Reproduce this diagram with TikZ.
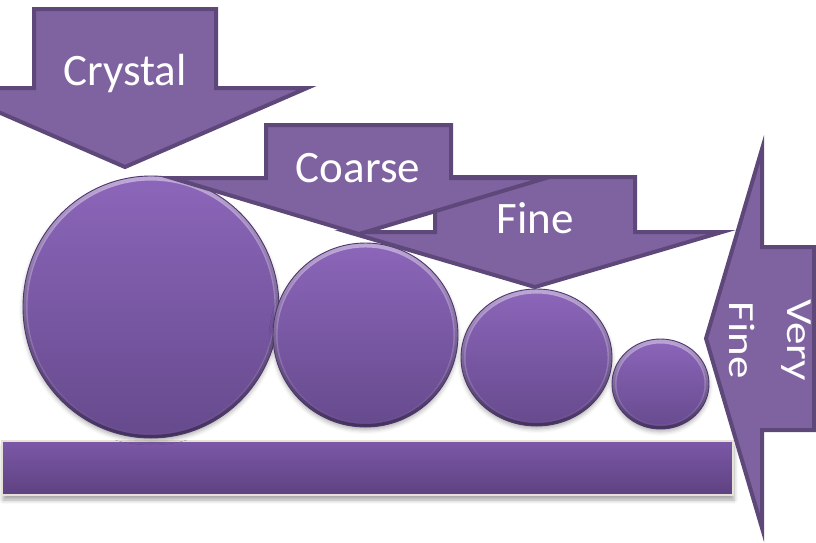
\documentclass[tikz,border=0pt]{standalone}
\usepackage{fontspec}
\setmainfont{Carlito}
\usetikzlibrary{fadings,shadows.blur,shapes.geometric}

\definecolor{arrowfill}{HTML}{7F63A1}
\definecolor{arrowline}{HTML}{5D4879}
\definecolor{balltop}{HTML}{8C66BA}
\definecolor{ballbot}{HTML}{664A8D}
\definecolor{ballrim}{HTML}{4E376D}
\definecolor{bartop}{HTML}{7C58A7}
\definecolor{barbot}{HTML}{5E4281}
\definecolor{baredge}{HTML}{E6E2D8}

% soft highlight on the upper rim, soft shade on the lower rim
\tikzfading[name=rimtop, top color=transparent!0, middle color=transparent!100, bottom color=transparent!100]
\tikzfading[name=rimbottom, top color=transparent!100, middle color=transparent!100, bottom color=transparent!0]

% a bevelled ball: name, centre x, centre y, x radius, y radius
\newcommand{\bevelball}[5]{%
  \node[ball, minimum width=2*#4, minimum height=2*#5] (#1) at (#2,#3) {};
  \begin{scope}
    \clip (#2,#3) ellipse [x radius=#4, y radius=#5];
    \draw[white, opacity=.45, line width=9pt, path fading=rimtop]
      (#2,#3) ellipse [x radius=#4, y radius=#5];
    \draw[black, opacity=.35, line width=6pt, path fading=rimbottom]
      (#2,#3) ellipse [x radius=#4, y radius=#5];
  \end{scope}
  \draw[ballrim, line width=.9pt] (#2,#3) ellipse [x radius=#4, y radius=#5];
}

\begin{document}
\begin{tikzpicture}[x=1pt,y=-1pt,
  blockarrow/.style={fill=arrowfill, draw=arrowline, line width=4pt,
    line join=miter, miter limit=10},
  lbl/.style={text=white, font=\fontsize{45}{54}\selectfont, inner sep=0pt},
  ball/.style={ellipse, inner sep=0pt, top color=balltop, bottom color=ballbot,
    blur shadow={shadow xshift=0pt, shadow yshift=-3pt, shadow blur radius=4pt,
      shadow opacity=30}},
  basebar/.style={top color=bartop, bottom color=barbot, draw=baredge,
    line width=1.5pt,
    blur shadow={shadow xshift=1pt, shadow yshift=-5pt, shadow blur radius=4pt,
      shadow opacity=35}},
]
\useasboundingbox (0,0) rectangle (816,542);
\clip (0,0) rectangle (816,542);

% base plate
\path[basebar] (2,441) rectangle (733,495);

% four grains, largest to smallest
\bevelball{g1}{151}{307}{128}{131}
\bevelball{g2}{365.5}{335}{92.5}{92}
\bevelball{g3}{536.5}{357.5}{75.5}{68.5}
\bevelball{g4}{660.5}{384}{48.5}{45}

% block arrows
\draw[blockarrow] (34,9) -- (216,9) -- (216,88) -- (307,88) -- (125,167)
  -- (-57,88) -- (34,88) -- cycle;
\node[lbl, anchor=base] (crystal) at (125,85) {Crystal};

\draw[blockarrow] (435,177) -- (635,177) -- (635,232) -- (722,232) -- (535,287)
  -- (348,232) -- (435,232) -- cycle;
\node[lbl, anchor=base] (fine) at (535,233) {Fine};

\draw[blockarrow] (266,125) -- (451,125) -- (451,178) -- (546,178) -- (359,234)
  -- (172,178) -- (266,178) -- cycle;
\node[lbl, anchor=base] (coarse) at (358,182) {Coarse};

\draw[blockarrow] (814,247) -- (814,430) -- (762,430) -- (762,528) -- (706,338.5)
  -- (762,149) -- (762,247) -- cycle;
\node[lbl, anchor=base, rotate=-90] (veryfine1) at (787,340) {\scalebox{1}[0.82]{Very}};
\node[lbl, anchor=base, rotate=-90] (veryfine2) at (729,340) {\scalebox{1}[0.82]{Fine}};
\end{tikzpicture}
\end{document}
